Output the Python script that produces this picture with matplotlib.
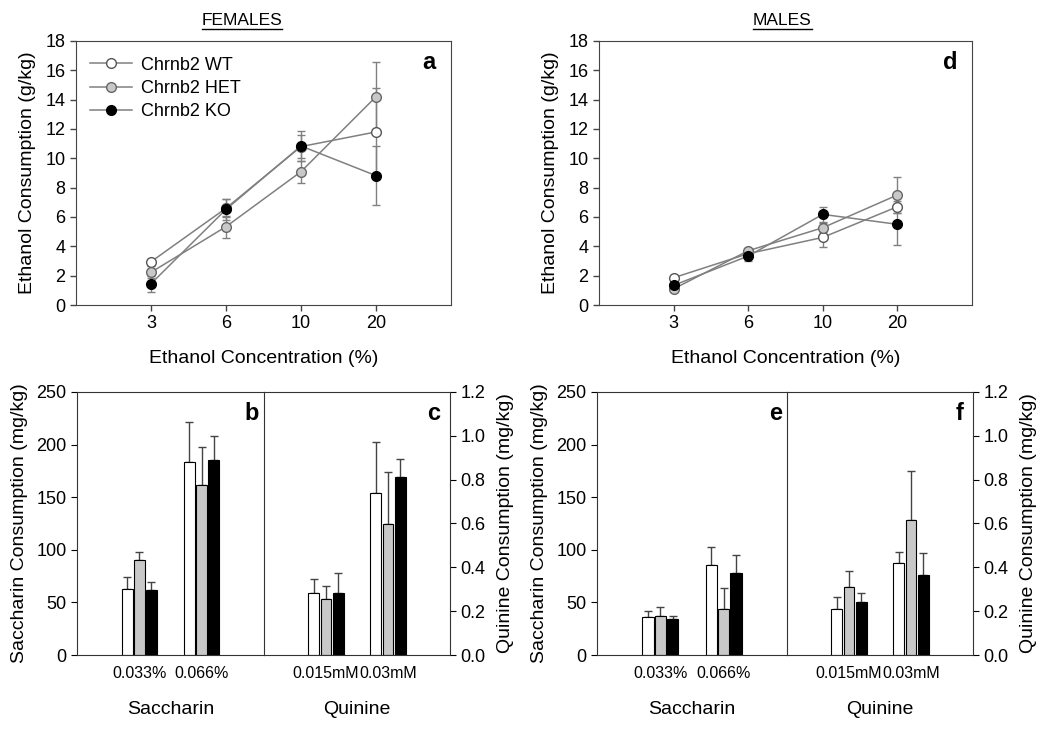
import numpy as np
import matplotlib.pyplot as plt
from matplotlib.lines import Line2D

plt.rcParams['font.family'] = ['Liberation Sans', 'DejaVu Sans']

# data
conc = ['3', '6', '10', '20']
genotypes = ['Chrnb2 WT', 'Chrnb2 HET', 'Chrnb2 KO']

# ethanol consumption, females (g/kg)
fem_wt = [2.95, 6.6, 10.8, 11.8]
fem_wt_err = [0.2, 0.6, 0.8, 3.0]
fem_het = [2.23, 5.34, 9.09, 14.2]
fem_het_err = [0.4, 0.75, 0.75, 2.35]
fem_ko = [1.45, 6.52, 10.84, 8.82]
fem_ko_err = [0.55, 0.7, 1.0, 2.0]

# ethanol consumption, males (g/kg)
mal_wt = [1.86, 3.5, 4.61, 6.7]
mal_wt_err = [0.15, 0.25, 0.63, 0.4]
mal_het = [1.1, 3.7, 5.27, 7.5]
mal_het_err = [0.15, 0.2, 0.3, 1.25]
mal_ko = [1.34, 3.34, 6.18, 5.5]
mal_ko_err = [0.15, 0.35, 0.5, 1.4]

sac_labels = ['0.033%', '0.066%']
qui_labels = ['0.015mM', '0.03mM']

# saccharin (mg/kg), females
fem_sac = [[63, 183], [90, 162], [62, 185]]
fem_sac_err = [[11, 38], [7.5, 35.5], [7, 23.5]]
# quinine (mg/kg), females
fem_qui = [[0.281, 0.737], [0.257, 0.597], [0.281, 0.81]]
fem_qui_err = [[0.067, 0.234], [0.057, 0.239], [0.094, 0.083]]
# saccharin, males
mal_sac = [[36.4, 86], [37, 43.4], [33.9, 78.2]]
mal_sac_err = [[5.7, 16.2], [8.3, 19.9], [3.1, 16.7]]
# quinine, males
mal_qui = [[0.208, 0.418], [0.308, 0.618], [0.24, 0.365]]
mal_qui_err = [[0.055, 0.05], [0.076, 0.222], [0.043, 0.101]]

line_col = '#808080'
face_cols = ['white', '#c8c8c8', 'black']
edge_cols = ['#555555', '#666666', 'black']
bar_cols = ['white', '#c8c8c8', 'black']

TICK = 13
LAB = 14

fig = plt.figure(figsize=(10.5, 7.29), dpi=100)


def line_panel(rect, series, letter, legend=False):
    ax = fig.add_axes(rect)
    x = np.arange(1, len(conc) + 1)
    for (vals, errs), fc, ec, name in zip(series, face_cols, edge_cols, genotypes):
        ax.errorbar(x, vals, yerr=errs, color=line_col, lw=1.1, ecolor=line_col,
                    elinewidth=1, capsize=3, marker='o', ms=7, mfc=fc, mec=ec,
                    mew=1, label=name)
    ax.set_xlim(0, 5)
    ax.set_ylim(0, 18)
    ax.set_xticks(x)
    ax.set_xticklabels(conc)
    ax.set_yticks(np.arange(0, 19, 2))
    ax.tick_params(labelsize=TICK, direction='out', length=4, width=1, color='#444444')
    for s in ax.spines.values():
        s.set_color('#444444')
    ax.set_xlabel('Ethanol Concentration (%)', fontsize=LAB, labelpad=13)
    ax.set_ylabel('Ethanol Consumption (g/kg)', fontsize=LAB, labelpad=7)
    ax.text(0.96, 0.92, letter, transform=ax.transAxes, ha='right', va='center',
            fontsize=17, fontweight='bold')
    if legend:
        handles = [Line2D([0], [0], color=line_col, lw=1.1, marker='o', ms=7,
                          mfc=fc, mec=ec) for fc, ec in zip(face_cols, edge_cols)]
        ax.legend(handles, genotypes, loc='upper left', frameon=False,
                  fontsize=13, handlelength=2.3, borderaxespad=0.4,
                  labelspacing=0.35, handletextpad=0.5,
                  bbox_to_anchor=(0.0, 0.995))
    return ax


def bar_pair(rect_l, rect_r, sac, sac_err, qui, qui_err, letters):
    ax1 = fig.add_axes(rect_l)
    ax2 = fig.add_axes(rect_r)
    x = np.array([1, 2])
    offs = [-0.195, 0.0, 0.195]
    w = 0.175
    for ax, vals, errs, labels in [(ax1, sac, sac_err, sac_labels),
                                   (ax2, qui, qui_err, qui_labels)]:
        for i in range(3):
            ax.bar(x + offs[i], vals[i], w, color=bar_cols[i], edgecolor='black',
                   linewidth=0.8, zorder=2)
            ax.errorbar(x + offs[i], vals[i],
                        yerr=[np.zeros(2), errs[i]], fmt='none', ecolor='#444444',
                        elinewidth=1, capsize=3, zorder=1)
        ax.set_xlim(0, 3)
        ax.set_xticks(x)
        ax.set_xticklabels(labels)
        ax.tick_params(axis='x', length=0, labelsize=11.5, pad=8)
        for s in ax.spines.values():
            s.set_color('#333333')
    # divider between the two halves is the left spine of the right half
    ax1.spines['right'].set_visible(False)
    ax1.set_ylim(0, 250)
    ax1.set_yticks(np.arange(0, 251, 50))
    ax1.tick_params(axis='y', labelsize=TICK, direction='out', length=4)
    ax1.set_ylabel('Saccharin Consumption (mg/kg)', fontsize=LAB, labelpad=6)
    ax1.set_xlabel('Saccharin', fontsize=LAB, labelpad=14)
    ax2.set_ylim(0, 1.2)
    ax2.set_yticks(np.arange(0, 1.21, 0.2))
    ax2.set_yticklabels(['%.1f' % v for v in np.arange(0, 1.21, 0.2)])
    ax2.yaxis.tick_right()
    ax2.yaxis.set_label_position('right')
    ax2.tick_params(axis='y', labelsize=TICK, direction='out', length=4)
    ax2.set_ylabel('Quinine Consumption (mg/kg)', fontsize=LAB, labelpad=8)
    ax2.set_xlabel('Quinine', fontsize=LAB, labelpad=14)
    ax1.text(0.975, 0.92, letters[0], transform=ax1.transAxes, ha='right',
             va='center', fontsize=17, fontweight='bold')
    ax2.text(0.95, 0.92, letters[1], transform=ax2.transAxes, ha='right',
             va='center', fontsize=17, fontweight='bold')


line_panel([0.0724, 0.5816, 0.3571, 0.3622],
           [(fem_wt, fem_wt_err), (fem_het, fem_het_err), (fem_ko, fem_ko_err)],
           'a', legend=True)
line_panel([0.5705, 0.5816, 0.3552, 0.3622],
           [(mal_wt, mal_wt_err), (mal_het, mal_het_err), (mal_ko, mal_ko_err)],
           'd')

bar_pair([0.0733, 0.1015, 0.1781, 0.3608], [0.2514, 0.1015, 0.1772, 0.3608],
         fem_sac, fem_sac_err, fem_qui, fem_qui_err, ['b', 'c'])
bar_pair([0.5686, 0.1015, 0.1809, 0.3608], [0.7495, 0.1015, 0.1772, 0.3608],
         mal_sac, mal_sac_err, mal_qui, mal_qui_err, ['e', 'f'])

# underlined section titles
renderer = fig.canvas.get_renderer()
for label, xc in [('FEMALES', 0.2305), ('MALES', 0.745)]:
    t = fig.text(xc, 0.972, label, ha='center', va='center', fontsize=12.5)
    bb = t.get_window_extent(renderer).transformed(fig.transFigure.inverted())
    fig.add_artist(Line2D([bb.x0, bb.x1], [bb.y0 - 0.002, bb.y0 - 0.002],
                          transform=fig.transFigure, color='black', lw=1))

fig.savefig('out.png', dpi=100)
